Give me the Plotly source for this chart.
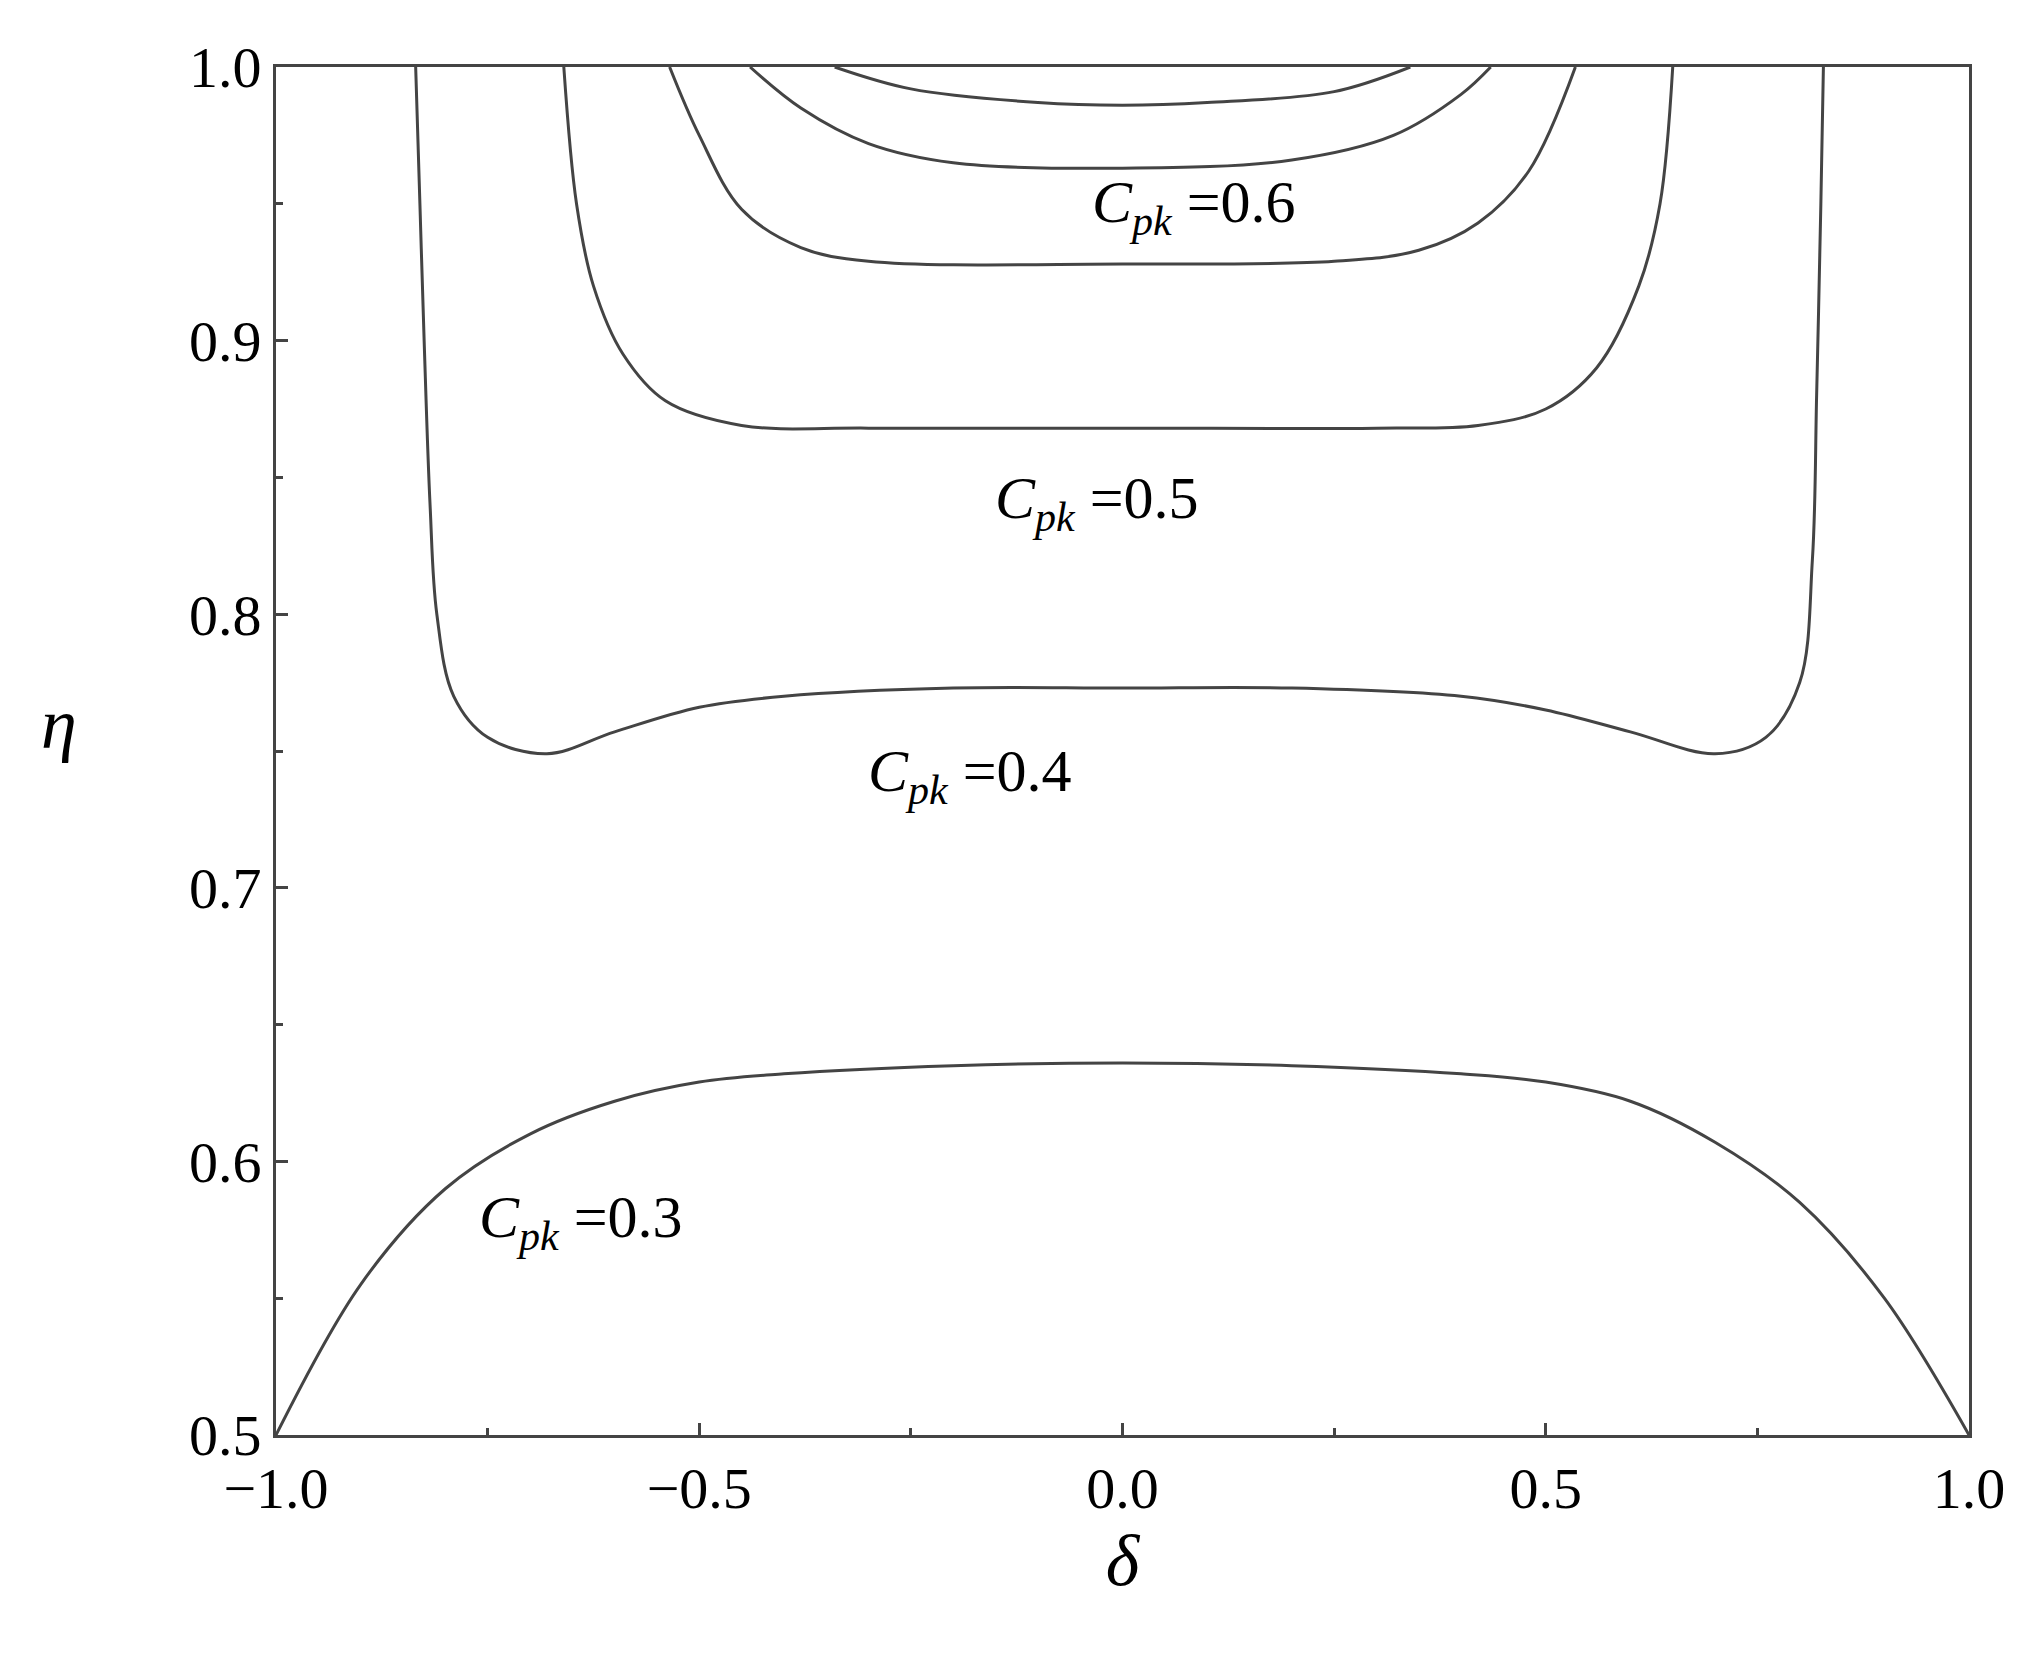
import plotly.graph_objects as go

c03_x = [-1.0,-0.9,-0.8,-0.7,-0.6,-0.5,-0.4,-0.2,0.0,0.2,0.4,0.5,0.6,0.7,0.8,0.9,1.0]
c03_y = [0.5,0.555,0.59,0.61,0.622,0.629,0.632,0.635,0.636,0.635,0.632,0.629,0.622,0.607,0.585,0.55,0.5]
c04_x = [-0.835,-0.83,-0.825,-0.818,-0.81,-0.79,-0.75,-0.68,-0.6,-0.5,-0.4,-0.2,0.0,0.2,0.4,0.5,0.6,0.7,0.76,0.8,0.815,0.82,0.825,0.828]
c04_y = [1.0,0.95,0.9,0.84,0.8,0.77,0.755,0.749,0.757,0.766,0.77,0.773,0.773,0.773,0.77,0.765,0.757,0.749,0.755,0.775,0.82,0.88,0.95,1.0]
c05_x = [-0.66,-0.645,-0.625,-0.59,-0.54,-0.45,-0.3,0.0,0.3,0.42,0.5,0.56,0.61,0.635,0.65]
c05_y = [1.0,0.95,0.92,0.895,0.878,0.869,0.868,0.868,0.868,0.869,0.875,0.89,0.92,0.95,1.0]
c06_x = [-0.535,-0.5,-0.45,-0.38,-0.3,0.0,0.25,0.35,0.42,0.48,0.535]
c06_y = [1.0,0.975,0.948,0.934,0.929,0.928,0.929,0.933,0.943,0.962,1.0]
c07_x = [-0.44,-0.38,-0.3,-0.2,0.0,0.2,0.32,0.4,0.435]
c07_y = [1.0,0.985,0.972,0.965,0.963,0.966,0.975,0.99,1.0]
c08_x = [-0.34,-0.25,-0.1,0.0,0.1,0.25,0.34]
c08_y = [1.0,0.992,0.987,0.986,0.987,0.991,1.0]

labels = ["0.6", "0.5", "0.4", "0.3"]
label_x = [0.085, -0.03, -0.18, -0.64]
label_y = [0.949, 0.841, 0.741, 0.578]
xticks = [-1.0, -0.5, 0.0, 0.5, 1.0]
yticks = [0.5, 0.6, 0.7, 0.8, 0.9, 1.0]

fig = go.Figure()
for xs, ys in [(c03_x,c03_y),(c04_x,c04_y),(c05_x,c05_y),(c06_x,c06_y),(c07_x,c07_y),(c08_x,c08_y)]:
    fig.add_trace(go.Scatter(x=xs, y=ys, mode="lines", line=dict(color="#444", width=3, shape="spline", smoothing=1.0), showlegend=False))

for t, lx, ly in zip(labels, label_x, label_y):
    fig.add_annotation(x=lx, y=ly, text=f"<i>C</i><sub><i>pk</i></sub> ={t}", showarrow=False,
                       font=dict(family="Liberation Serif", size=60, color="black"))

fig.add_annotation(xref="paper", yref="paper", x=-0.14, y=0.52, text="<i>η</i>", showarrow=False,
                   font=dict(family="Liberation Serif", size=72, color="black"))

axis_common = dict(showline=True, linecolor="#444", linewidth=3, mirror=True, showgrid=False, zeroline=False,
                   ticks="inside", ticklen=12, tickwidth=2.5, tickcolor="#444",
                   tickfont=dict(family="Liberation Serif", size=58, color="black"))
fig.update_xaxes(range=[-1, 1], tickvals=xticks, ticktext=[f"{v:.1f}".replace("-", "−") for v in xticks],
                 minor=dict(dtick=0.25, ticks="inside", ticklen=7, tickcolor="#444", tickwidth=2.5),
                 title=dict(text="<i>δ</i>", font=dict(family="Liberation Serif", size=72, color="black"), standoff=5), **axis_common)
fig.update_yaxes(range=[0.5, 1], tickvals=yticks, ticktext=[f"{v:.1f}" for v in yticks],
                 minor=dict(dtick=0.05, ticks="inside", ticklen=7, tickcolor="#444", tickwidth=2.5),
                 **axis_common)
fig.update_layout(width=2023, height=1653, plot_bgcolor="white", paper_bgcolor="white",
                  margin=dict(l=268, r=62, t=59, b=226))
fig.write_html("out.html")
